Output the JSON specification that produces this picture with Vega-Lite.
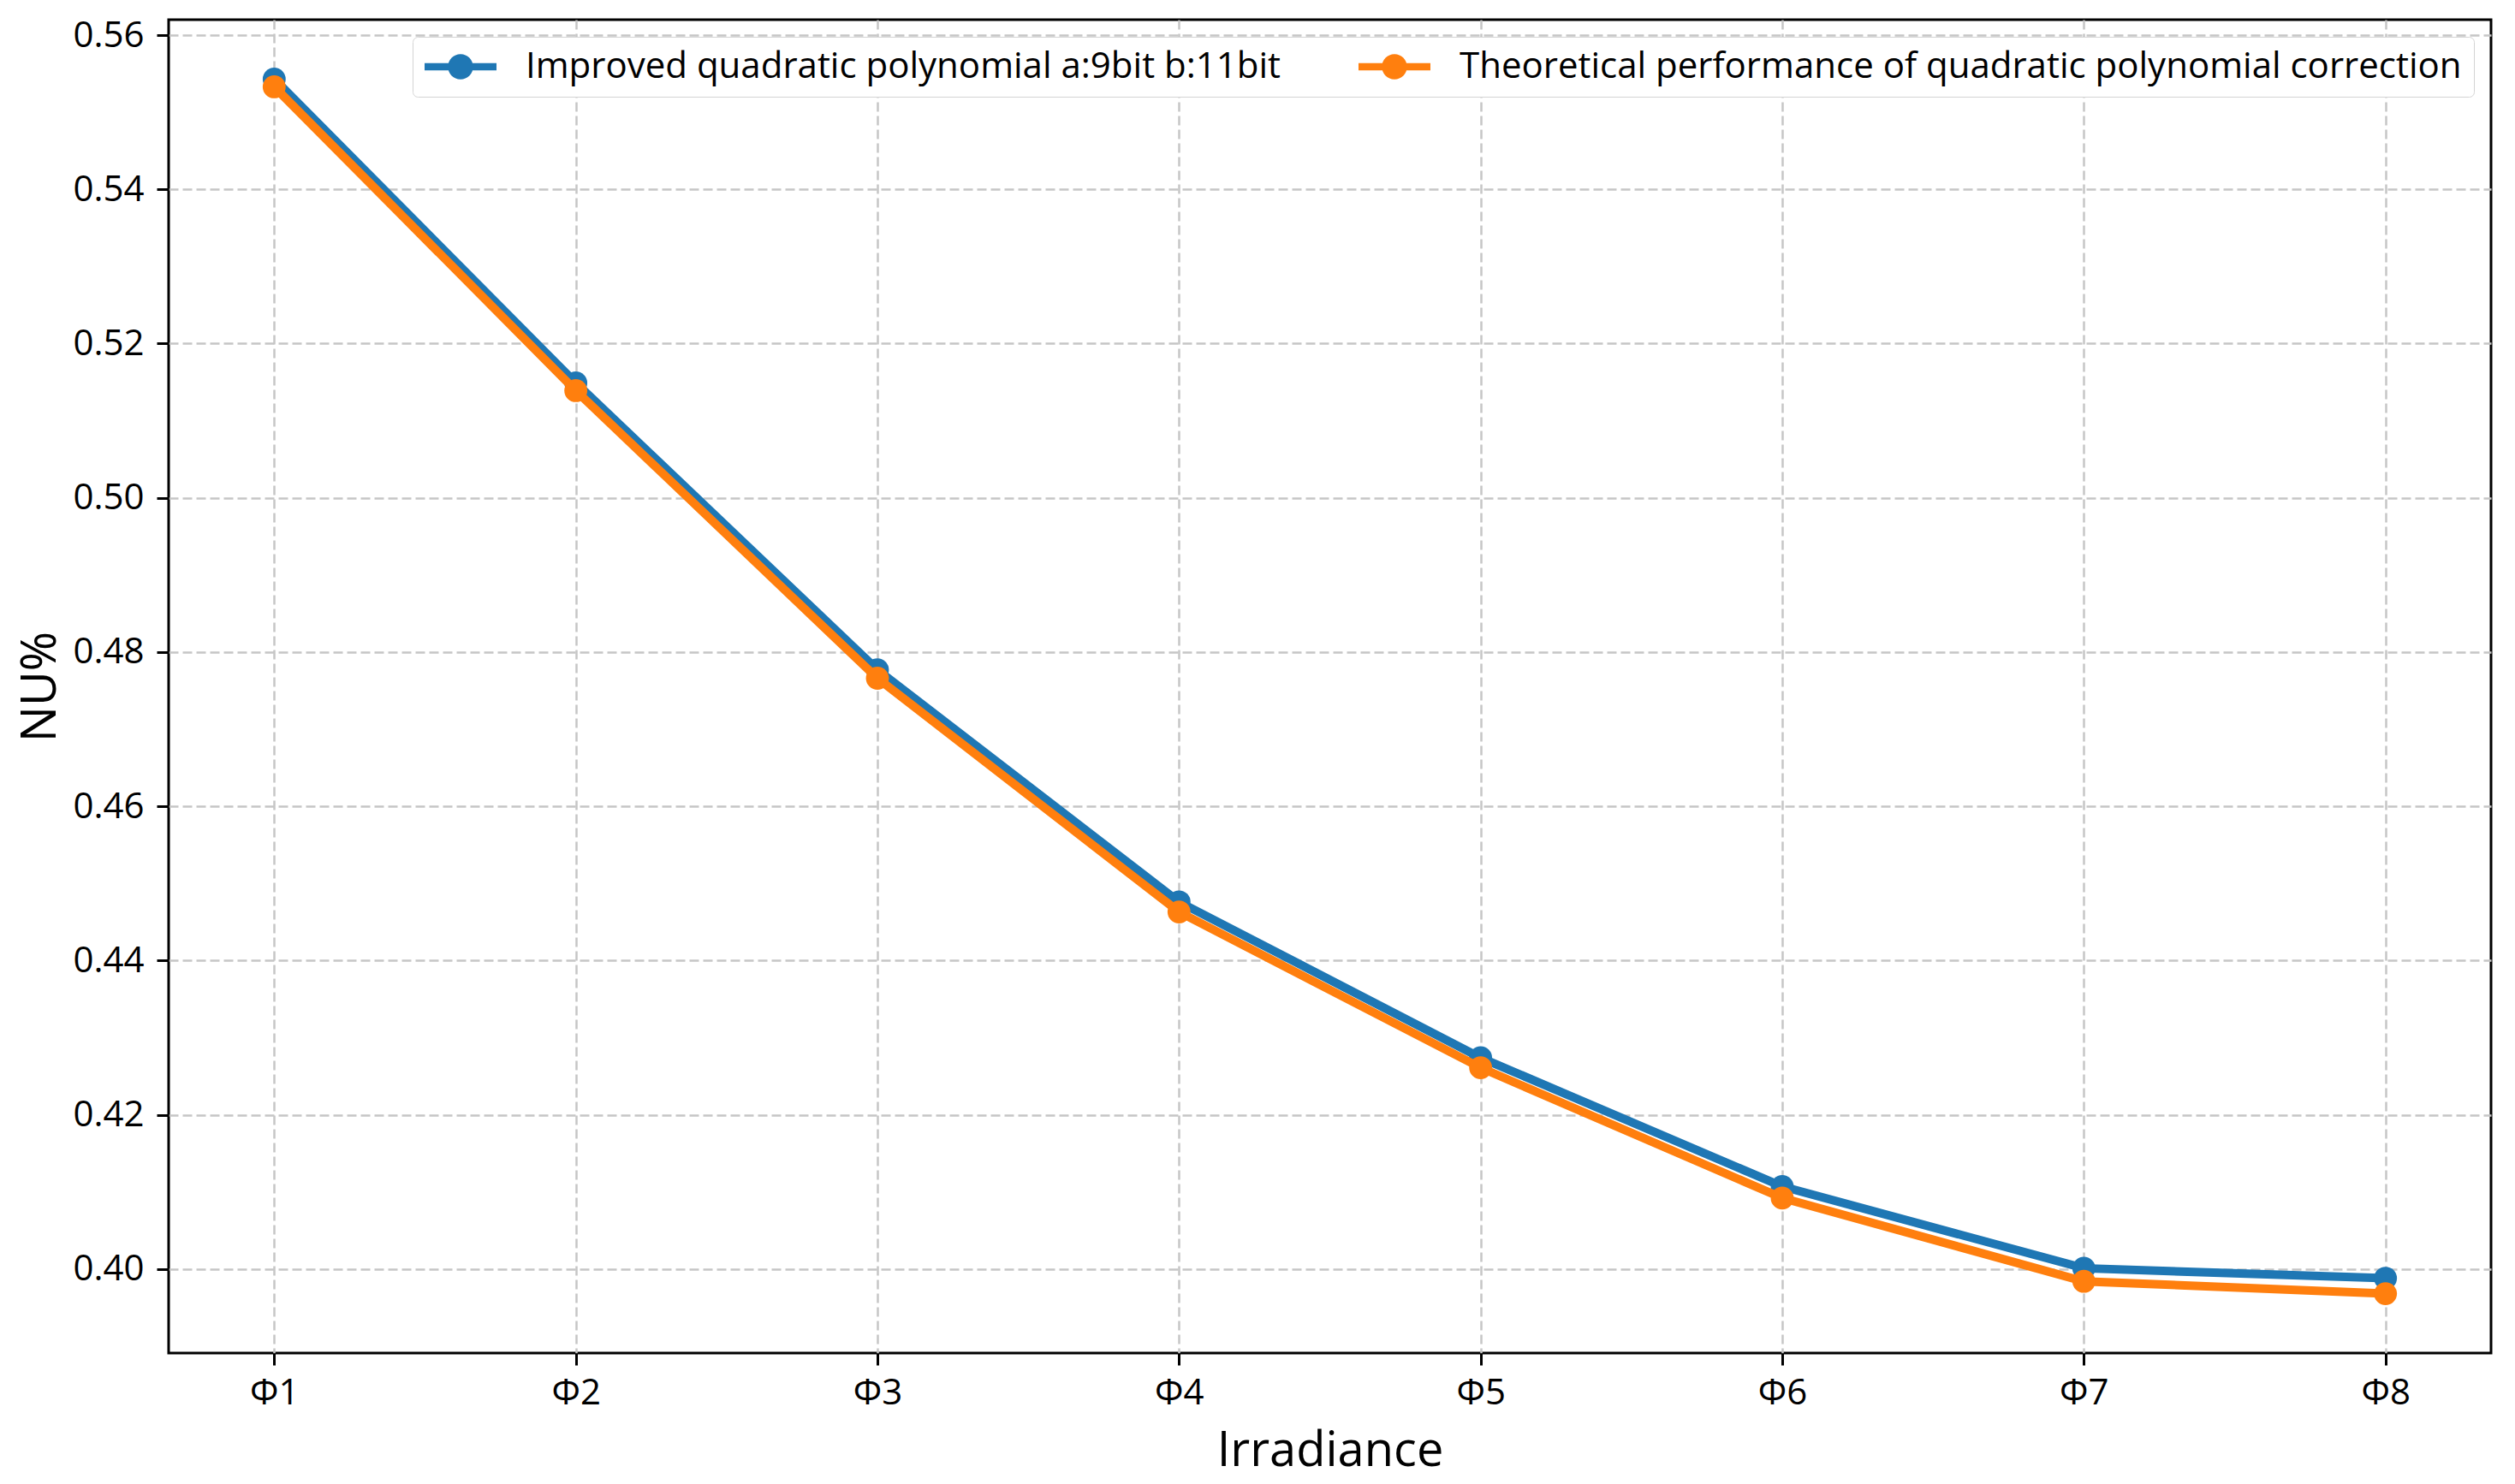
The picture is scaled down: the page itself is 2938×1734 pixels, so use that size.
{
  "$schema": "https://vega.github.io/schema/vega-lite/v6.json",
  "width": 2713,
  "height": 1558,
  "autosize": {"type": "none"},
  "padding": {"left": 197, "top": 23, "right": 28, "bottom": 153},
  "background": "white",
  "config": {
    "font": "Open Sans",
    "view": {"stroke": "black", "strokeWidth": 3},
    "axis": {
      "labelFont": "Open Sans",
      "labelFontSize": 42,
      "labelColor": "black",
      "titleFont": "Open Sans",
      "titleFontSize": 56,
      "titleFontWeight": "normal",
      "titleColor": "black",
      "tickColor": "black",
      "tickSize": 14,
      "tickWidth": 3,
      "domain": false,
      "grid": true,
      "gridColor": "#c6c6c6",
      "gridDash": [11, 5],
      "gridWidth": 2.5
    },
    "legend": {
      "labelFont": "Open Sans",
      "labelFontSize": 42,
      "labelColor": "black",
      "labelLimit": 0
    }
  },
  "data": {
    "values": [
      {"irr": "Φ1", "series": "Improved quadratic polynomial a:9bit b:11bit", "nu": 0.5543},
      {"irr": "Φ2", "series": "Improved quadratic polynomial a:9bit b:11bit", "nu": 0.5149},
      {"irr": "Φ3", "series": "Improved quadratic polynomial a:9bit b:11bit", "nu": 0.4777},
      {"irr": "Φ4", "series": "Improved quadratic polynomial a:9bit b:11bit", "nu": 0.4476},
      {"irr": "Φ5", "series": "Improved quadratic polynomial a:9bit b:11bit", "nu": 0.4274},
      {"irr": "Φ6", "series": "Improved quadratic polynomial a:9bit b:11bit", "nu": 0.4107},
      {"irr": "Φ7", "series": "Improved quadratic polynomial a:9bit b:11bit", "nu": 0.4001},
      {"irr": "Φ8", "series": "Improved quadratic polynomial a:9bit b:11bit", "nu": 0.3988},
      {"irr": "Φ1", "series": "Theoretical performance of quadratic polynomial correction", "nu": 0.5533},
      {"irr": "Φ2", "series": "Theoretical performance of quadratic polynomial correction", "nu": 0.5139},
      {"irr": "Φ3", "series": "Theoretical performance of quadratic polynomial correction", "nu": 0.4766},
      {"irr": "Φ4", "series": "Theoretical performance of quadratic polynomial correction", "nu": 0.4463},
      {"irr": "Φ5", "series": "Theoretical performance of quadratic polynomial correction", "nu": 0.4261},
      {"irr": "Φ6", "series": "Theoretical performance of quadratic polynomial correction", "nu": 0.4092},
      {"irr": "Φ7", "series": "Theoretical performance of quadratic polynomial correction", "nu": 0.3984},
      {"irr": "Φ8", "series": "Theoretical performance of quadratic polynomial correction", "nu": 0.3968}
    ]
  },
  "encoding": {
    "x": {
      "field": "irr",
      "type": "ordinal",
      "sort": null,
      "scale": {"type": "point", "padding": 0.35},
      "axis": {"title": "Irradiance", "labelAngle": 0, "labelPadding": 12, "titlePadding": 20}
    },
    "y": {
      "field": "nu",
      "type": "quantitative",
      "scale": {"domain": [0.3891, 0.562], "nice": false, "zero": false},
      "axis": {
        "title": "NU%",
        "values": [0.40, 0.42, 0.44, 0.46, 0.48, 0.50, 0.52, 0.54, 0.56],
        "format": ".2f",
        "labelPadding": 15,
        "titlePadding": 8
      }
    },
    "color": {
      "field": "series",
      "type": "nominal",
      "scale": {
        "domain": ["Improved quadratic polynomial a:9bit b:11bit", "Theoretical performance of quadratic polynomial correction"],
        "range": ["#1f77b4", "#ff7f0e"]
      },
      "legend": {
        "title": null,
        "orient": "top-right",
        "offset": 20,
        "direction": "horizontal",
        "columns": 2,
        "columnPadding": 90,
        "fillColor": "white",
        "strokeColor": "#d4d4d4",
        "cornerRadius": 6,
        "padding": 14,
        "symbolType": "M-2,-0.2L2,-0.2L2,0.2L-2,0.2Z M0.7,0A0.7,0.7,0,1,1,-0.7,0A0.7,0.7,0,1,1,0.7,0Z",
        "symbolSize": 1764,
        "symbolStrokeWidth": 0,
        "symbolOffset": 21,
        "labelOffset": 55,
        "encode": {
          "symbols": {
            "update": {
              "fill": {"scale": "color", "field": "value"},
              "stroke": {"value": "transparent"},
              "opacity": {"value": 1}
            }
          }
        }
      }
    }
  },
  "layer": [
    {
      "transform": [{"filter": "datum.series == 'Improved quadratic polynomial a:9bit b:11bit'"}],
      "mark": {"type": "line", "strokeWidth": 10}
    },
    {
      "transform": [{"filter": "datum.series == 'Improved quadratic polynomial a:9bit b:11bit'"}],
      "mark": {"type": "point", "filled": true, "size": 720, "opacity": 1}
    },
    {
      "transform": [{"filter": "datum.series == 'Theoretical performance of quadratic polynomial correction'"}],
      "mark": {"type": "line", "strokeWidth": 10}
    },
    {
      "transform": [{"filter": "datum.series == 'Theoretical performance of quadratic polynomial correction'"}],
      "mark": {"type": "point", "filled": true, "size": 720, "opacity": 1}
    }
  ]
}
